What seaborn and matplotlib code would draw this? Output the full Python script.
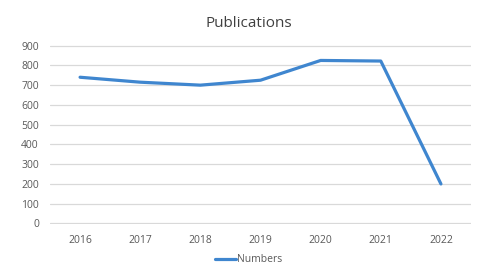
import matplotlib
matplotlib.use('Agg')
import matplotlib.pyplot as plt
import seaborn as sns
import pandas as pd

sns.set_style("white")
plt.rcParams['font.family'] = ['Open Sans', 'DejaVu Sans']

# Data
years = ['2016', '2017', '2018', '2019', '2020', '2021', '2022']
numbers = [740, 715, 700, 725, 825, 822, 200]

df = pd.DataFrame({'Year': years, 'Numbers': numbers})

line_color = '#3F86CF'
text_color = '#595959'

fig = plt.figure(figsize=(4.98, 2.78), dpi=100)
ax = fig.add_axes([0.1004, 0.194, 0.8454, 0.644])

sns.lineplot(data=df, x='Year', y='Numbers', ax=ax, color=line_color,
             linewidth=2.3, label='Numbers', sort=False)

ax.set_xlim(-0.5, len(years) - 0.5)
ax.set_ylim(-3, 903)
ax.set_yticks(range(0, 901, 100))
ax.yaxis.grid(True, color='#d9d9d9', linewidth=0.9)
ax.xaxis.grid(False)
ax.set_axisbelow(True)
for s in ax.spines.values():
    s.set_visible(False)
ax.tick_params(axis='both', length=0, labelsize=7.5, labelcolor=text_color)
ax.tick_params(axis='y', pad=8)
ax.tick_params(axis='x', pad=8)
ax.set_xlabel('')
ax.set_ylabel('')

fig.text(0.5, 0.915, 'Publications', ha='center', va='center', fontsize=11, color='#404040')

ax.legend(loc='center', bbox_to_anchor=(0.5, 0.065), bbox_transform=fig.transFigure,
          frameon=False, fontsize=7.5, handlelength=2.0, handletextpad=0.1,
          labelcolor=text_color)

fig.savefig('out.png', dpi=100)
